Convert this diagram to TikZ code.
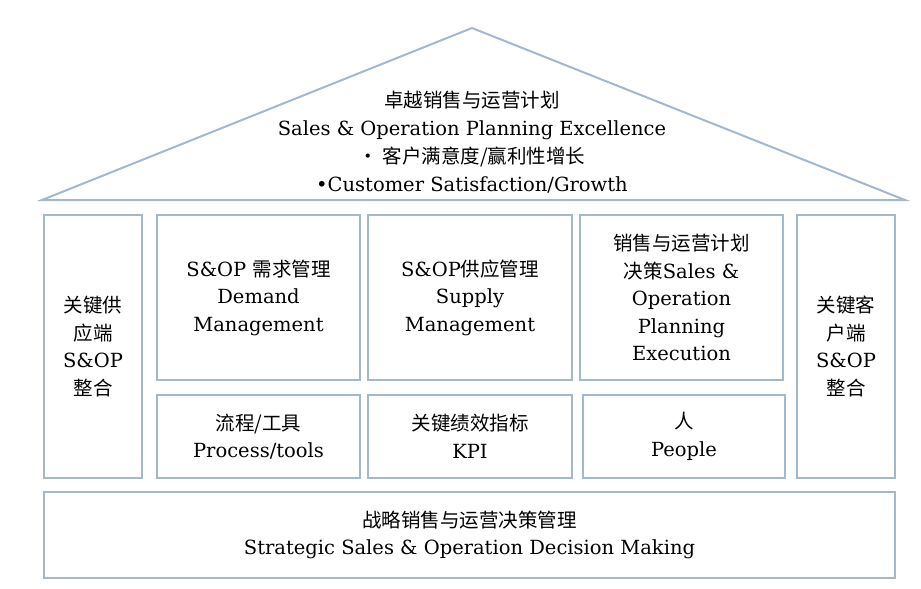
\documentclass[tikz,border=0pt]{standalone}
\usepackage{fontspec}
\setmainfont{DejaVu Serif}
\newfontfamily\cjk{Noto Sans CJK SC}
\usetikzlibrary{positioning}
\definecolor{edge}{HTML}{A3B8CC}
\begin{document}
\begin{tikzpicture}[x=1pt,y=-1pt,
    pillar/.style={draw=edge, line width=2pt, align=center, font=\fontsize{19.5}{27.5}\selectfont},
    roof/.style={draw=edge, line width=2pt}]
  \useasboundingbox (0,0) rectangle (921,589);
  % Roof
  \draw[roof] (42,200) -- (472,28) -- (905,200) -- cycle;
  \node[align=center, font=\fontsize{19.5}{28}\selectfont] (title) at (472,142)
    {{\cjk 卓越销售与运营计划}\\Sales \& Operation Planning Excellence\\
     {\cjk • 客户满意度/赢利性增长}\\•Customer Satisfaction/Growth};
  % Pillars
  \node[pillar, minimum width=98, minimum height=263] (left) at (93,346.5)
    {{\cjk 关键供}\\{\cjk 应端}\\S\&OP\\{\cjk 整合}};
  \node[pillar, minimum width=98, minimum height=263] (right) at (846,346.5)
    {{\cjk 关键客}\\{\cjk 户端}\\S\&OP\\{\cjk 整合}};
  \node[pillar, minimum width=203, minimum height=165] (demand) at (258.5,297.5)
    {S\&OP {\cjk 需求管理}\\Demand\\Management};
  \node[pillar, minimum width=204, minimum height=165] (supply) at (470,297.5)
    {S\&OP{\cjk 供应管理}\\Supply\\Management};
  \node[pillar, minimum width=203, minimum height=165] (execution) at (681.5,297.5)
    {{\cjk 销售与运营计划}\\{\cjk 决策}Sales \&\\Operation\\Planning\\Execution};
  \node[pillar, minimum width=203, minimum height=83] (process) at (258.5,436.5)
    {{\cjk 流程/工具}\\Process/tools};
  \node[pillar, minimum width=204, minimum height=83] (kpi) at (470,436.5)
    {{\cjk 关键绩效指标}\\KPI};
  \node[pillar, minimum width=202, minimum height=83] (people) at (684,436.5)
    {{\cjk 人}\\People};
  % Base
  \node[pillar, minimum width=851, minimum height=86] (base) at (469.5,535)
    {{\cjk 战略销售与运营决策管理}\\Strategic Sales \& Operation Decision Making};
\end{tikzpicture}
\end{document}
